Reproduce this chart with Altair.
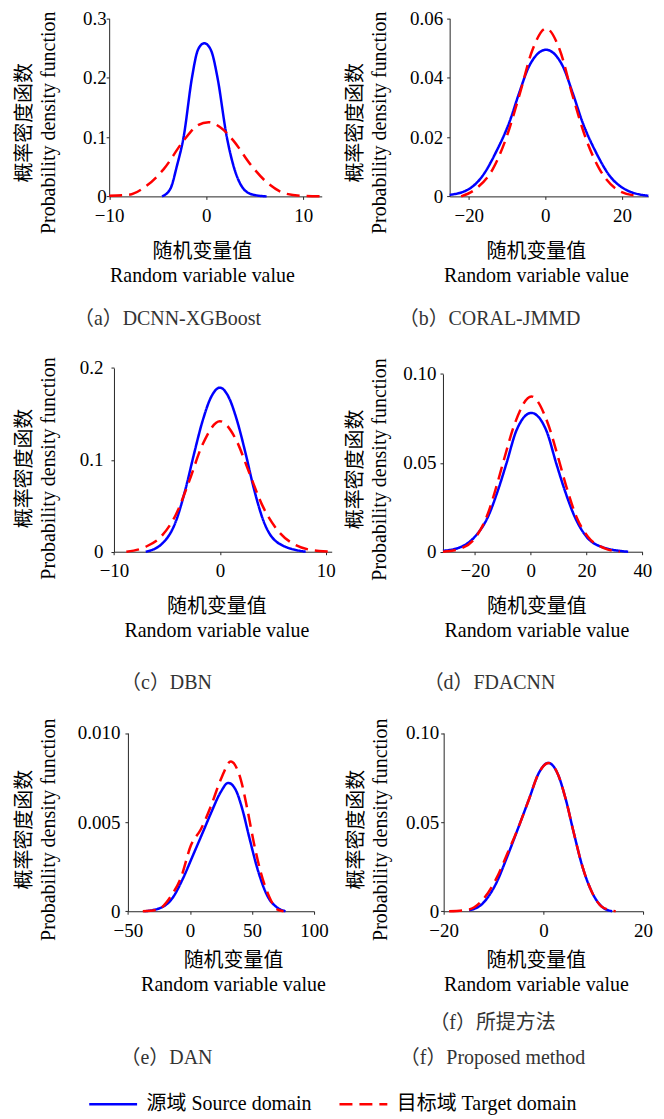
import altair as alt
import pandas as pd

SRC = "源域 Source domain"
TGT = "目标域 Target domain"
FONT = "Liberation Serif, Noto Sans CJK SC"

# ---- data ----
a_src_x = [-4.55, -3.69, -3.01, -2.33, -1.47, -0.95, -0.6, -0.2, 0.2, 0.58, 1.16, 2.12, 2.80, 3.83, 4.8, 6.22]
a_src_y = [0.0, 0.013, 0.052, 0.1, 0.2, 0.2425, 0.254, 0.258, 0.254, 0.2425, 0.2, 0.1, 0.052, 0.013, 0.003, 0.0]
a_tgt_x = [-10.0, -7.97, -6.43, -4.38, -2.33, -0.95, 0.24, 1.44, 2.80, 4.51, 6.22, 8.27, 10.3, 11.9]
a_tgt_y = [0.001, 0.0027, 0.0145, 0.046, 0.094, 0.119, 0.125, 0.1165, 0.094, 0.0548, 0.024, 0.0044, 0.0005, 0.0]

b_src_x = [-25.0, -19.8, -16.3, -12.9, -9.4, -6.8, -4.2, 0.17, 4.5, 7.1, 9.7, 13.2, 16.7, 21.1, 26.9]
b_src_y = [0.0005, 0.0026, 0.0071, 0.0149, 0.025, 0.035, 0.044, 0.0494, 0.044, 0.035, 0.025, 0.0149, 0.0071, 0.0022, 0.0002]
b_tgt_x = [-22.0, -18.1, -13.7, -10.3, -6.8, -3.3, 0.17, 3.7, 7.1, 10.6, 14.1, 18.4, 23.6]
b_tgt_y = [0.0, 0.0026, 0.0093, 0.0194, 0.034, 0.0496, 0.0566, 0.0496, 0.034, 0.0194, 0.0093, 0.0026, 0.0002]

c_src_x = [-7.0, -5.43, -4.17, -3.23, -2.45, -1.64, -0.8, 0.0, 0.8, 1.64, 2.45, 3.21, 4.15, 5.57, 8.1]
c_src_y = [0.0, 0.009, 0.0326, 0.0688, 0.106, 0.142, 0.169, 0.1786, 0.169, 0.142, 0.106, 0.0688, 0.0326, 0.009, 0.0]
c_tgt_x = [-8.83, -7.0, -5.43, -4.17, -2.92, -1.66, 0.0, 1.48, 2.74, 4.0, 5.57, 7.17, 9.37, 10.56]
c_tgt_y = [0.0, 0.0054, 0.018, 0.04, 0.076, 0.116, 0.142, 0.123, 0.087, 0.0507, 0.0217, 0.0072, 0.0007, 0.0]

d_src_x = [-31.4, -24.8, -20.0, -15.3, -11.7, -8.7, -5.1, 0.25, 5.6, 9.2, 12.2, 15.8, 20.0, 25.3, 34.9]
d_src_y = [0.0005, 0.0028, 0.0084, 0.0196, 0.0346, 0.0495, 0.0682, 0.0781, 0.0682, 0.0495, 0.0346, 0.0196, 0.0084, 0.0028, 0.0]
d_tgt_x = [-31.4, -24.8, -20.0, -15.3, -12.3, -9.3, -5.7, 0.25, 6.2, 9.8, 12.8, 16.4, 20.5, 26.5, 31.9]
d_tgt_y = [0.0, 0.0019, 0.0075, 0.0215, 0.0365, 0.0533, 0.072, 0.0873, 0.072, 0.0533, 0.0365, 0.0196, 0.0084, 0.0019, 0.0]

e_src_x = [-36.7, -23.3, -13.9, -5.9, 2.2, 10.2, 16.9, 24.9, 30.8, 36.9, 42.3, 47.6, 54.3, 62.4, 70.4, 77.0]
e_src_y = [0.0, 0.0002, 0.00076, 0.0018, 0.0031, 0.0044, 0.0055, 0.0067, 0.0072, 0.0068, 0.0057, 0.0042, 0.0024, 0.00086, 0.0002, 0.0]
e_tgt_x = [-38.0, -25.9, -15.2, -7.2, 0.8, 8.8, 16.9, 24.9, 32.9, 40.9, 46.3, 51.6, 57.0, 63.6, 70.4, 75.4]
e_tgt_y = [0.0, 0.0001, 0.00086, 0.0019, 0.0037, 0.0046, 0.0059, 0.0074, 0.0084, 0.0074, 0.0057, 0.0038, 0.0022, 0.00086, 0.0001, 0.0]

f_src_x = [-14.9, -12.2, -9.5, -7.2, -4.9, -2.9, -0.9, 1.0, 2.8, 4.5, 6.1, 7.8, 9.8, 11.8, 13.8]
f_src_y = [0.0005, 0.0043, 0.0155, 0.031, 0.0478, 0.0627, 0.0776, 0.0832, 0.0776, 0.0627, 0.044, 0.0254, 0.0104, 0.0024, 0.0]
f_tgt_x = [-18.9, -14.9, -12.2, -9.5, -7.2, -4.9, -2.9, -0.9, 1.0, 2.8, 4.5, 6.1, 7.8, 9.8, 11.8, 14.5]
f_tgt_y = [0.0, 0.001, 0.0063, 0.018, 0.0325, 0.0478, 0.0627, 0.0776, 0.0832, 0.0776, 0.0627, 0.044, 0.0254, 0.0104, 0.0024, 0.0]

# axis domains and tick labels
x_domains = {"a": [-10, 11.9], "b": [-25, 26.9], "c": [-10, 10.56], "d": [-31.4, 40], "e": [-50, 100], "f": [-20, 20]}
y_domains = {"a": [0, 0.3], "b": [0, 0.06], "c": [0, 0.2], "d": [0, 0.1], "e": [0, 0.01], "f": [0, 0.1]}
x_ticks = {"a": [-10, 0, 10], "b": [-20, 0, 20], "c": [-10, 0, 10], "d": [-20, 0, 20, 40], "e": [-50, 0, 50, 100], "f": [-20, 0, 20]}
y_ticks = {"a": [0, 0.1, 0.2, 0.3], "b": [0, 0.02, 0.04, 0.06], "c": [0, 0.1, 0.2], "d": [0, 0.05, 0.1], "e": [0, 0.005, 0.01], "f": [0, 0.05, 0.1]}
y_tick_labels = {"a": ["0", "0.1", "0.2", "0.3"], "b": ["0", "0.02", "0.04", "0.06"], "c": ["0", "0.1", "0.2"],
                 "d": ["0", "0.05", "0.10"], "e": ["0", "0.005", "0.010"], "f": ["0", "0.05", "0.10"]}
captions = {"a": "（a）DCNN-XGBoost", "b": "（b）CORAL-JMMD", "c": "（c）DBN", "d": "（d）FDACNN",
            "e": "（e）DAN", "f": ["（f）所提方法", "（f）Proposed method"]}
series = {"a": (a_src_x, a_src_y, a_tgt_x, a_tgt_y), "b": (b_src_x, b_src_y, b_tgt_x, b_tgt_y),
          "c": (c_src_x, c_src_y, c_tgt_x, c_tgt_y), "d": (d_src_x, d_src_y, d_tgt_x, d_tgt_y),
          "e": (e_src_x, e_src_y, e_tgt_x, e_tgt_y), "f": (f_src_x, f_src_y, f_tgt_x, f_tgt_y)}

# ---- layout (pixels) ----
CELL_W = 332
cell_h = {"a": 194.3, "b": 194.3, "c": 355.7, "d": 355.7, "e": 360.3, "f": 360.3}
x_range = {"a": [108.5, 321.7], "b": [118, 317.3], "c": [113.3, 331.7], "d": [111.3, 311.3], "e": [127.3, 314], "f": [112, 312]}
y_range = {"a": [194.3, 15.7], "b": [194.3, 15.7], "c": [355.7, 171.4], "d": [355.7, 177.4], "e": [360.3, 181.5], "f": [360.3, 181.5]}
ytitle_x = {"a": -75, "b": -84.8, "c": -79.8, "d": -78.1, "e": -93.8, "f": -77.2}
ytitle_y = {"a": 120, "b": 120, "c": 271.7, "d": 272.7, "e": 278, "f": 278}
xtitle_x = {"a": 201.5, "b": 204.5, "c": 216, "d": 205, "e": 232.7, "f": 204.5}
xtitle_y = {"a": 45, "b": 45, "c": 45, "d": 45, "e": 39, "f": 39}
ylab_pad = {"a": 0, "b": 4, "c": 8, "d": 4, "e": 5, "f": 2}
cap_offset = {"a": 23, "b": 23, "c": 32, "d": 32, "e": 54, "f": 19}
cap_dx = {"a": 1, "b": -8, "c": 0, "d": -8, "e": 0, "f": -5}

AX = "#262626"

legend = alt.Legend(orient="none", legendX=87, legendY=1095, direction="horizontal", columns=2,
                    title=None, symbolType="stroke", symbolSize=2304, symbolStrokeWidth=2.5,
                    clipHeight=20, labelFont=FONT, labelFontSize=20, labelColor="black", labelOffset=8,
                    columnPadding=26, padding=0, labelLimit=400)


def make_panel(k):
    sx, sy, tx, ty = series[k]
    df = pd.DataFrame({"x": sx + tx, "y": sy + ty, "s": [SRC] * len(sx) + [TGT] * len(tx)})
    yl = y_tick_labels[k]
    yexpr = "[" + ",".join("'%s'" % t for t in yl) + "][indexof([" + ",".join(repr(v) for v in y_ticks[k]) + "], datum.value)]"
    xenc = alt.X("x:Q",
                 scale=alt.Scale(domain=x_domains[k], range=x_range[k], nice=False, zero=False),
                 axis=alt.Axis(values=x_ticks[k], grid=False, labelFlush=False, labelOverlap=False,
                               labelFont=FONT, labelFontSize=19, labelColor="black", labelPadding=7,
                               tickSize=3, tickColor=AX, domainColor=AX,
                               title=["随机变量值", "Random variable value"], titleFont=FONT,
                               titleFontSize=20, titleFontWeight="normal", titleColor="black",
                               titleLineHeight=24.5, titleX=xtitle_x[k], titleY=xtitle_y[k],
                               titleAlign="center", titleBaseline="top", titleAngle=0))
    yenc = alt.Y("y:Q",
                 scale=alt.Scale(domain=y_domains[k], range=y_range[k], nice=False, zero=False),
                 axis=alt.Axis(values=y_ticks[k], labelExpr=yexpr, grid=False, labelFlush=False,
                               labelOverlap=False, offset=-x_range[k][0],
                               labelFont=FONT, labelFontSize=19, labelColor="black",
                               labelPadding=ylab_pad[k], tickSize=3, tickColor=AX, domainColor=AX,
                               title=["概率密度函数", "Probability density function"], titleFont=FONT,
                               titleFontSize=20, titleFontWeight="normal", titleColor="black",
                               titleLineHeight=24, titleX=ytitle_x[k], titleY=ytitle_y[k],
                               titleAlign="center", titleBaseline="bottom", titleAngle=270))
    color = alt.Color("s:N", scale=alt.Scale(domain=[SRC, TGT], range=["#0000ff", "#ff0000"]), legend=legend)
    dash = alt.StrokeDash("s:N", scale=alt.Scale(domain=[SRC, TGT], range=[[1, 0], [13, 7]]), legend=legend)
    base = alt.Chart(df).mark_line(strokeWidth=2.5, interpolate="monotone").encode(
        x=xenc, y=yenc, color=color, strokeDash=dash)
    layer = alt.layer(base.transform_filter(alt.datum.s == SRC),
                      base.transform_filter(alt.datum.s == TGT))
    return layer.properties(
        width=CELL_W, height=cell_h[k],
        title=alt.TitleParams(text=captions[k], orient="bottom", anchor="middle", frame="group",
                              offset=cap_offset[k], dx=cap_dx[k], font=FONT, fontSize=20,
                              fontWeight="normal", color="#333333", lineHeight=35))


panels = [make_panel(k) for k in "abcdef"]
chart = alt.concat(*panels, columns=2, spacing=0, bounds="flush", align="each").properties(
    padding=0
).configure(background="white").configure_view(stroke="transparent")

chart.save("out.html", embed_options={"renderer": "svg", "actions": False})
